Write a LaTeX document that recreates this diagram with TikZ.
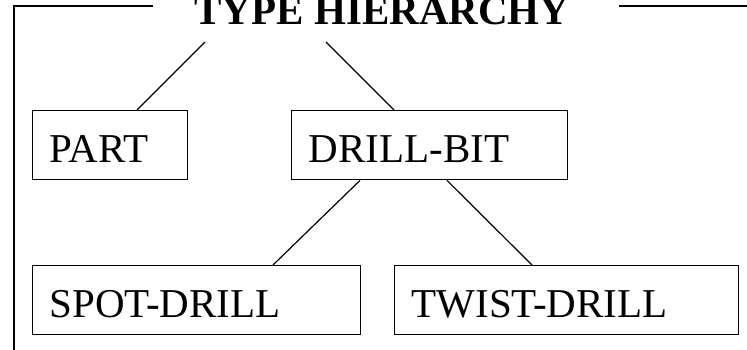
\documentclass[tikz,border=0pt]{standalone}
\usepackage{fontspec}
\setmainfont{Liberation Serif}
\usetikzlibrary{positioning}
\tikzset{
  typeBox/.style={rectangle, draw=black, line width=1.4pt, inner xsep=17pt, inner ysep=0pt, text height=52pt, text depth=17pt, align=left, anchor=north west, font=\fontsize{41}{49}\selectfont},
  titleText/.style={font=\fontsize{41}{49}\selectfont\bfseries, inner sep=0pt, anchor=base},
  frameLine/.style={line width=1.8pt},
  link/.style={line width=1.2pt}
}
\begin{document}
\begin{tikzpicture}[x=1pt, y=-1pt]
\useasboundingbox (0,0) rectangle (747,349);

% Frame round the hierarchy
\draw[frameLine] (153,6) -- (14,6) -- (14,352);
\draw[frameLine] (619,6) -- (750,6);

% Title
\node[titleText] (title) at (382,24) {TYPE HIERARCHY};
\coordinate (tL) at (205,42);
\coordinate (tR) at (326,42);

% Types
\node[typeBox, text width=121pt] (part) at (32,110) {PART};
\node[typeBox, text width=242pt] (drill) at (291,110) {DRILL-BIT};
\node[typeBox, text width=294pt] (spot) at (32,265) {SPOT-DRILL};
\node[typeBox, text width=310pt] (twist) at (394,265) {TWIST-DRILL};

% Links
\draw[link] (tL) -- (part.north west -| 137,0);
\draw[link] (tR) -- (drill.north west -| 394,0);
\draw[link] (drill.south west -| 360,0) -- (spot.north west -| 273,0);
\draw[link] (drill.south west -| 447,0) -- (twist.north west -| 532,0);

\end{tikzpicture}
\end{document}
